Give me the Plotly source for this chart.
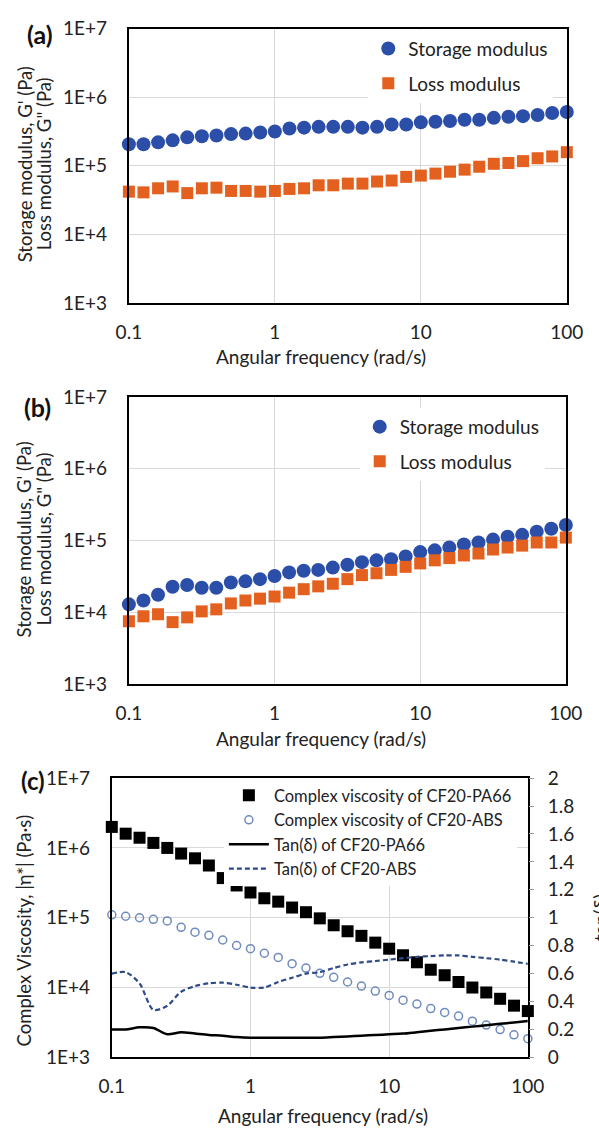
import plotly.graph_objects as go

# ---------------- data ----------------
freq = [0.1, 0.1259, 0.1585, 0.1995, 0.2512, 0.3162, 0.3981, 0.5012, 0.631, 0.7943,
        1.0, 1.259, 1.585, 1.995, 2.512, 3.162, 3.981, 5.012, 6.31, 7.943,
        10.0, 12.59, 15.85, 19.95, 25.12, 31.62, 39.81, 50.12, 63.1, 79.43, 100.0]

storage_a = [2.06e5, 2.06e5, 2.2e5, 2.35e5, 2.6e5, 2.7e5, 2.77e5, 2.9e5, 2.95e5, 3.06e5,
             3.16e5, 3.5e5, 3.6e5, 3.7e5, 3.7e5, 3.7e5, 3.6e5, 3.7e5, 4.0e5, 4.0e5,
             4.3e5, 4.4e5, 4.5e5, 4.7e5, 4.7e5, 5.0e5, 5.2e5, 5.3e5, 5.5e5, 5.9e5, 6.1e5]
loss_a = [4.2e4, 4.1e4, 4.7e4, 5.0e4, 4.0e4, 4.7e4, 4.8e4, 4.3e4, 4.3e4, 4.2e4,
          4.3e4, 4.6e4, 4.7e4, 5.2e4, 5.2e4, 5.5e4, 5.5e4, 5.9e4, 6.1e4, 6.9e4,
          7.2e4, 7.7e4, 8.2e4, 8.8e4, 9.7e4, 1.07e5, 1.1e5, 1.17e5, 1.29e5, 1.37e5, 1.58e5]

storage_b = [1.29e4, 1.46e4, 1.76e4, 2.27e4, 2.4e4, 2.2e4, 2.2e4, 2.6e4, 2.7e4, 2.9e4,
             3.2e4, 3.6e4, 3.8e4, 3.9e4, 4.2e4, 4.6e4, 5.0e4, 5.3e4, 5.5e4, 6.0e4,
             6.9e4, 7.3e4, 8.0e4, 8.8e4, 9.4e4, 1.03e5, 1.13e5, 1.2e5, 1.33e5, 1.46e5, 1.65e5]
loss_b = [7.5e3, 8.8e3, 9.4e3, 7.3e3, 8.5e3, 1.03e4, 1.1e4, 1.33e4, 1.46e4, 1.55e4,
          1.66e4, 1.88e4, 2.1e4, 2.3e4, 2.5e4, 2.9e4, 3.3e4, 3.5e4, 3.9e4, 4.3e4,
          4.8e4, 5.3e4, 5.7e4, 6.2e4, 6.6e4, 7.5e4, 8.0e4, 8.5e4, 9.4e4, 9.4e4, 1.1e5]

visc_pa66 = [2.0e6, 1.6e6, 1.4e6, 1.18e6, 1.0e6, 8.3e5, 7.1e5, 5.6e5, 3.7e5, 2.9e5,
             2.3e5, 1.9e5, 1.7e5, 1.4e5, 1.2e5, 9.8e4, 7.8e4, 6.4e4, 5.5e4, 4.4e4,
             3.6e4, 2.9e4, 2.3e4, 1.8e4, 1.5e4, 1.2e4, 1.0e4, 8.5e3, 6.9e3, 5.5e3, 4.6e3]
visc_abs = [1.1e5, 1.05e5, 1.0e5, 9.5e4, 9.0e4, 7.3e4, 6.2e4, 5.6e4, 4.8e4, 4.0e4,
            3.6e4, 3.1e4, 2.7e4, 2.2e4, 1.9e4, 1.6e4, 1.4e4, 1.2e4, 1.05e4, 8.9e3,
            7.7e3, 6.6e3, 5.8e3, 5.0e3, 4.4e3, 3.9e3, 3.3e3, 2.9e3, 2.5e3, 2.1e3, 1.85e3]
tan_pa66 = [0.20, 0.20, 0.215, 0.21, 0.165, 0.18, 0.17, 0.16, 0.155, 0.145,
            0.14, 0.14, 0.14, 0.14, 0.14, 0.14, 0.145, 0.15, 0.155, 0.16,
            0.165, 0.17, 0.18, 0.19, 0.20, 0.21, 0.22, 0.23, 0.24, 0.25, 0.26]
tan_abs = [0.60, 0.61, 0.53, 0.34, 0.37, 0.47, 0.51, 0.53, 0.535, 0.52,
           0.50, 0.50, 0.54, 0.57, 0.60, 0.61, 0.64, 0.665, 0.68, 0.69,
           0.70, 0.71, 0.72, 0.725, 0.73, 0.73, 0.72, 0.71, 0.70, 0.685, 0.67]

x_tickvals = [0.1, 1, 10, 100]
x_ticktext = ["0.1", "1", "10", "100"]
y_tickvals = [1e3, 1e4, 1e5, 1e6, 1e7]
y_ticktext = ["1E+3", "1E+4", "1E+5", "1E+6", "1E+7"]
tan_tickvals = [0, 0.2, 0.4, 0.6, 0.8, 1.0, 1.2, 1.4, 1.6, 1.8, 2.0]
tan_ticktext = ["0", "0.2", "0.4", "0.6", "0.8", "1", "1.2", "1.4", "1.6", "1.8", "2"]

# ---------------- style ----------------
W, H = 599, 1133
FONT = "Lato"
TXT = "#222222"
BLUE = "#2b4fa8"
ORANGE = "#e4601e"
GRID = "#d9d9d9"
FS = 19


def px_x(p):
    return p / W


def px_y(p):
    return 1 - p / H


fig = go.Figure()

# panel (a)
fig.add_trace(go.Scatter(x=freq, y=storage_a, mode="markers", name="Storage modulus",
                         marker=dict(symbol="circle", size=14, color=BLUE),
                         xaxis="x", yaxis="y", legend="legend", legendgroup="a1",
                         cliponaxis=False))
fig.add_trace(go.Scatter(x=freq, y=loss_a, mode="markers", name="Loss modulus",
                         marker=dict(symbol="square", size=12, color=ORANGE),
                         xaxis="x", yaxis="y", legend="legend", legendgroup="a2",
                         cliponaxis=False))
# panel (b)
fig.add_trace(go.Scatter(x=freq, y=storage_b, mode="markers", name="Storage modulus",
                         marker=dict(symbol="circle", size=14, color=BLUE),
                         xaxis="x2", yaxis="y2", legend="legend2", legendgroup="b1",
                         cliponaxis=False))
fig.add_trace(go.Scatter(x=freq, y=loss_b, mode="markers", name="Loss modulus",
                         marker=dict(symbol="square", size=12, color=ORANGE),
                         xaxis="x2", yaxis="y2", legend="legend2", legendgroup="b2",
                         cliponaxis=False))
# panel (c)
fig.add_trace(go.Scatter(x=freq, y=visc_pa66, mode="markers",
                         name="Complex viscosity of CF20-PA66",
                         marker=dict(symbol="square", size=12, color="black"),
                         xaxis="x3", yaxis="y3", legend="legend3", cliponaxis=False))
fig.add_trace(go.Scatter(x=freq, y=visc_abs, mode="markers",
                         name="Complex viscosity of CF20-ABS",
                         marker=dict(symbol="circle-open", size=8, color="#6f8bbd",
                                     line=dict(width=1.5)),
                         xaxis="x3", yaxis="y3", legend="legend3", cliponaxis=False))
fig.add_trace(go.Scatter(x=freq, y=tan_pa66, mode="lines", name="Tan(δ) of CF20-PA66",
                         line=dict(color="black", width=2.5, shape="spline", smoothing=0.8),
                         xaxis="x3", yaxis="y4", legend="legend3"))
fig.add_trace(go.Scatter(x=freq, y=tan_abs, mode="lines", name="Tan(δ) of CF20-ABS",
                         line=dict(color="#2e4a87", width=2.2, dash="5px,3px", shape="spline",
                                   smoothing=0.8),
                         xaxis="x3", yaxis="y4", legend="legend3"))

tickfont = dict(family=FONT, size=FS, color=TXT)

xcommon = dict(type="log", range=[-1, 2], tickvals=x_tickvals, ticktext=x_ticktext,
               showgrid=True, gridcolor=GRID, gridwidth=1, showline=True, linecolor="black",
               linewidth=2, mirror=True, ticks="", tickfont=tickfont, zeroline=False,
               ticklabelstandoff=11)
ycommon = dict(type="log", range=[3, 7], tickvals=y_tickvals, ticktext=y_ticktext,
               showgrid=True, gridcolor=GRID, gridwidth=1, showline=True, linecolor="black",
               linewidth=2, mirror=True, ticks="", tickfont=tickfont, zeroline=False,
               ticklabelstandoff=16)

fig.update_layout(
    width=W, height=H, margin=dict(l=0, r=0, t=0, b=0),
    paper_bgcolor="white", plot_bgcolor="white",
    font=dict(family=FONT, size=FS, color=TXT),
    xaxis=dict(xcommon, domain=[px_x(122), px_x(583)], anchor="y"),
    yaxis=dict(ycommon, domain=[px_y(297), px_y(17)], anchor="x"),
    xaxis2=dict(xcommon, domain=[px_x(122), px_x(582)], anchor="y2"),
    yaxis2=dict(ycommon, domain=[px_y(686), px_y(393)], anchor="x2"),
    xaxis3=dict(xcommon, domain=[px_x(104), px_x(542)], anchor="y3"),
    yaxis3=dict(ycommon, domain=[px_y(1067), px_y(782)], anchor="x3"),
    yaxis4=dict(range=[0, 2], tickvals=tan_tickvals, ticktext=tan_ticktext,
                overlaying="y3", side="right", anchor="x3", showgrid=False,
                showline=False, ticks="outside", ticklen=5, tickcolor="#999",
                tickfont=tickfont, zeroline=False, ticklabelstandoff=10),
    legend=dict(x=px_x(374), y=px_y(18), xanchor="left", yanchor="top",
                bgcolor="white", font=dict(family=FONT, size=FS, color=TXT),
                traceorder="grouped", tracegroupgap=7, itemwidth=30),
    legend2=dict(x=px_x(365), y=px_y(404), xanchor="left", yanchor="top",
                 bgcolor="white", font=dict(family=FONT, size=FS, color=TXT),
                 traceorder="grouped", tracegroupgap=7, itemwidth=30),
    legend3=dict(x=px_x(222), y=px_y(782), xanchor="left", yanchor="top",
                 bgcolor="white", font=dict(family=FONT, size=16.5, color=TXT),
                 tracegroupgap=0, itemwidth=40),
    showlegend=True,
)

ann = []
# panel labels
for txt, xx, yy, fs in [("(a)", 28, 22, 25), ("(b)", 26, 403, 25), ("(c)", 21, 784, 24)]:
    ann.append(dict(text=f"<b>{txt}</b>", x=px_x(xx), y=px_y(yy), xref="paper", yref="paper",
                    showarrow=False, font=dict(family=FONT, size=fs, color="#111"),
                    xanchor="center", yanchor="middle"))
# x titles
for xc, yy in [(324, 352), (324, 742), (326, 1126)]:
    ann.append(dict(text="Angular frequency (rad/s)", x=px_x(xc), y=px_y(yy), xref="paper",
                    yref="paper", showarrow=False, font=dict(family=FONT, size=FS, color=TXT),
                    xanchor="center", yanchor="middle"))
# y titles (a), (b): two rotated lines
for yc in [155, 538]:
    for xx, line in [(12, "Storage modulus, G' (Pa)"), (33, "Loss modulus, G\" (Pa)")]:
        ann.append(dict(text=line, x=px_x(xx), y=px_y(yc), xref="paper", yref="paper",
                        showarrow=False, textangle=-90,
                        font=dict(family=FONT, size=18.5, color=TXT),
                        xanchor="center", yanchor="middle"))
# y title (c)
ann.append(dict(text="Complex Viscosity, |η*| (Pa·s)", x=px_x(12), y=px_y(937),
                xref="paper", yref="paper", showarrow=False, textangle=-90,
                font=dict(family=FONT, size=18.5, color=TXT), xanchor="center",
                yanchor="middle"))
# right title (c), partly cut by the figure edge as in the source
ann.append(dict(text="tan(δ)", x=px_x(618), y=px_y(925), xref="paper", yref="paper",
                showarrow=False, textangle=-90, font=dict(family=FONT, size=FS, color=TXT),
                xanchor="center", yanchor="middle"))
fig.update_layout(annotations=ann)

fig.write_html("out.html",
               post_script="document.body.style.margin='0';document.body.style.padding='0';"
                           "document.body.style.overflow='hidden';")
